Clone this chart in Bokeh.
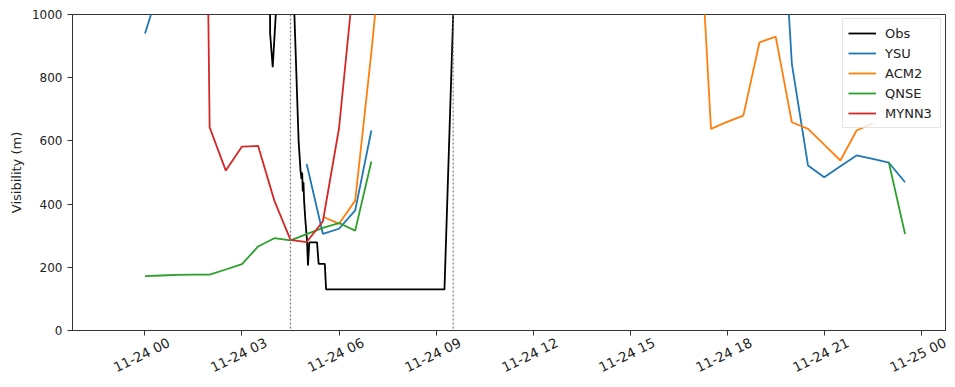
import math
import numpy as np
import pandas as pd
from bokeh.plotting import figure
from bokeh.models import (FixedTicker, DatetimeTickFormatter, DatetimeAxis, Span,
                          Legend, LegendItem, Range1d)
from bokeh.embed import file_html
from bokeh.resources import INLINE

nan = float("nan")
base_day = "2018-11-24"

# ---- data (hours after 11-24 00:00, visibility in m) ----
obs_hours = [-1.0, 3.80, 3.87, 3.95, 4.05, 4.10, 4.55, 4.62, 4.75, 4.81, 4.84,
             4.86, 4.88, 4.90, 4.92, 4.96, 5.01, 5.04, 5.08, 5.32, 5.37, 5.56,
             5.60, 9.26, 9.53, 12.0, 23.5]
obs_vals = [3000, 3000, 940, 833, 1010, 3000, 3000, 1000, 601, 506, 480,
            500, 440, 470, 411, 348, 285, 206, 279, 279, 211, 211,
            130, 130, 1000, 3000, 3000]

ysu_hours = [0.0, 0.5, 1.0, 5.0, 5.5, 6.0, 6.5, 7.0, 7.5,
             19.5, 20.0, 20.5, 21.0, 21.5, 22.0, 22.5, 23.0, 23.5]
ysu_vals = [940, 1100, nan, 527, 306, 322, 380, 633, nan,
            1700, 844, 522, 485, 520, 554, 543, 531, 469]

acm2_hours = [5.5, 6.0, 6.5, 7.0, 7.5, 8.0,
              17.0, 17.5, 18.0, 18.5, 19.0, 19.5, 20.0, 20.5, 21.0, 21.5, 22.0, 22.5]
acm2_vals = [360, 338, 411, 880, 1400, nan,
             1570, 638, 660, 680, 912, 930, 659, 638, 588, 538, 633, 656]

qnse_hours = [0.0, 0.5, 1.0, 1.5, 2.0, 2.5, 3.0, 3.5, 4.0, 4.5, 5.0, 5.5,
              6.0, 6.5, 7.0, 7.5, 23.0, 23.5]
qnse_vals = [172, 174, 176, 177, 177, 193, 210, 266, 292, 285, 305, 325,
             340, 316, 535, nan, 531, 305]

mynn3_hours = [1.5, 2.0, 2.5, 3.0, 3.5, 4.0, 4.5, 5.0, 5.5, 6.0, 6.5]
mynn3_vals = [5000, 643, 506, 582, 584, 411, 287, 280, 345, 640, 1154]

fog_hours = [4.5, 9.53]
tick_hours = [0, 3, 6, 9, 12, 15, 18, 21, 24]
y_ticks = [0, 200, 400, 600, 800, 1000]
x_limits_hours = [-2.24, 24.75]

series_names = ["Obs", "YSU", "ACM2", "QNSE", "MYNN3"]
series_colors = ["black", "#1f77b4", "#ff7f0e", "#2ca02c", "#d62728"]


def to_dt(hours):
    return list(pd.Timestamp(base_day) + pd.to_timedelta(hours, unit="h"))


def to_ms(hours):
    return [(pd.Timestamp(base_day) + pd.Timedelta(hours=h)).value / 1e6 for h in hours]


x0, x1 = to_ms(x_limits_hours)
p = figure(width=955, height=387, x_axis_type="datetime",
           output_backend="svg", toolbar_location=None,
           x_range=Range1d(x0, x1), y_range=Range1d(0, 1000),
           min_border_left=72, min_border_right=10,
           min_border_top=14, min_border_bottom=57)

p.xgrid.visible = False
p.ygrid.visible = False
p.outline_line_color = "#333333"
p.outline_line_width = 1
p.background_fill_color = "white"
p.border_fill_color = "white"

fmt = "%m-%d %H"
def make_fmt():
    return DatetimeTickFormatter(
        milliseconds=fmt, seconds=fmt, minsec=fmt, minutes=fmt, hourmin=fmt,
        hours=fmt, days=fmt, months=fmt, years=fmt)

# main x axis: tick marks only (its own labels are not drawn)
p.xaxis.ticker = FixedTicker(ticks=to_ms(tick_hours))
p.xaxis.formatter = make_fmt()

p.yaxis.ticker = FixedTicker(ticks=y_ticks)
p.yaxis.axis_label = "Visibility (m)"

for ax in (p.xaxis, p.yaxis):
    ax.axis_line_color = "#333333"
    ax.major_tick_line_color = "#333333"
    ax.minor_tick_line_color = None
    ax.major_tick_out = 5
    ax.major_tick_in = 0
    ax.major_label_text_font = "DejaVu Sans"
    ax.major_label_text_color = "#222222"
    ax.axis_label_text_font = "DejaVu Sans"
    ax.axis_label_text_font_size = "13px"
    ax.axis_label_text_font_style = "normal"
    ax.axis_label_text_color = "#222222"
p.yaxis.major_label_text_font_size = "12px"
p.xaxis.major_label_text_color = None
p.xaxis.major_label_text_font_size = "1px"
p.xaxis.major_label_standoff = 0

# label axis: rotated labels centred under the ticks
label_shift_h = 0.74
lab_axis = DatetimeAxis(ticker=FixedTicker(ticks=to_ms([h + label_shift_h for h in tick_hours])),
                        formatter=make_fmt(),
                        axis_line_color=None, major_tick_line_color=None,
                        minor_tick_line_color=None,
                        major_label_orientation=math.radians(26),
                        major_label_standoff=0,
                        major_label_text_font="DejaVu Sans",
                        major_label_text_font_size="13.5px",
                        major_label_text_color="#222222")
p.add_layout(lab_axis, "below")

for h in fog_hours:
    p.add_layout(Span(location=to_ms([h])[0], dimension="height",
                      line_color="#777777", line_dash="2 2", line_width=1.2))

all_hours = [obs_hours, ysu_hours, acm2_hours, qnse_hours, mynn3_hours]
all_vals = [obs_vals, ysu_vals, acm2_vals, qnse_vals, mynn3_vals]
items = []
for name, col, hrs, vals in zip(series_names, series_colors, all_hours, all_vals):
    r = p.line(to_dt(hrs), vals, line_color=col, line_width=1.8)
    items.append(LegendItem(label=name, renderers=[r]))

legend = Legend(items=items, location="top_right", margin=4, padding=5,
                spacing=2, label_height=18, glyph_height=18, glyph_width=28,
                label_standoff=9, label_width=50,
                label_text_font="DejaVu Sans", label_text_font_size="13px",
                label_text_color="#222222",
                border_line_color="#cccccc", border_line_width=1,
                background_fill_alpha=0.8)
p.add_layout(legend)

open("out.html", "w").write(file_html(p, INLINE))
